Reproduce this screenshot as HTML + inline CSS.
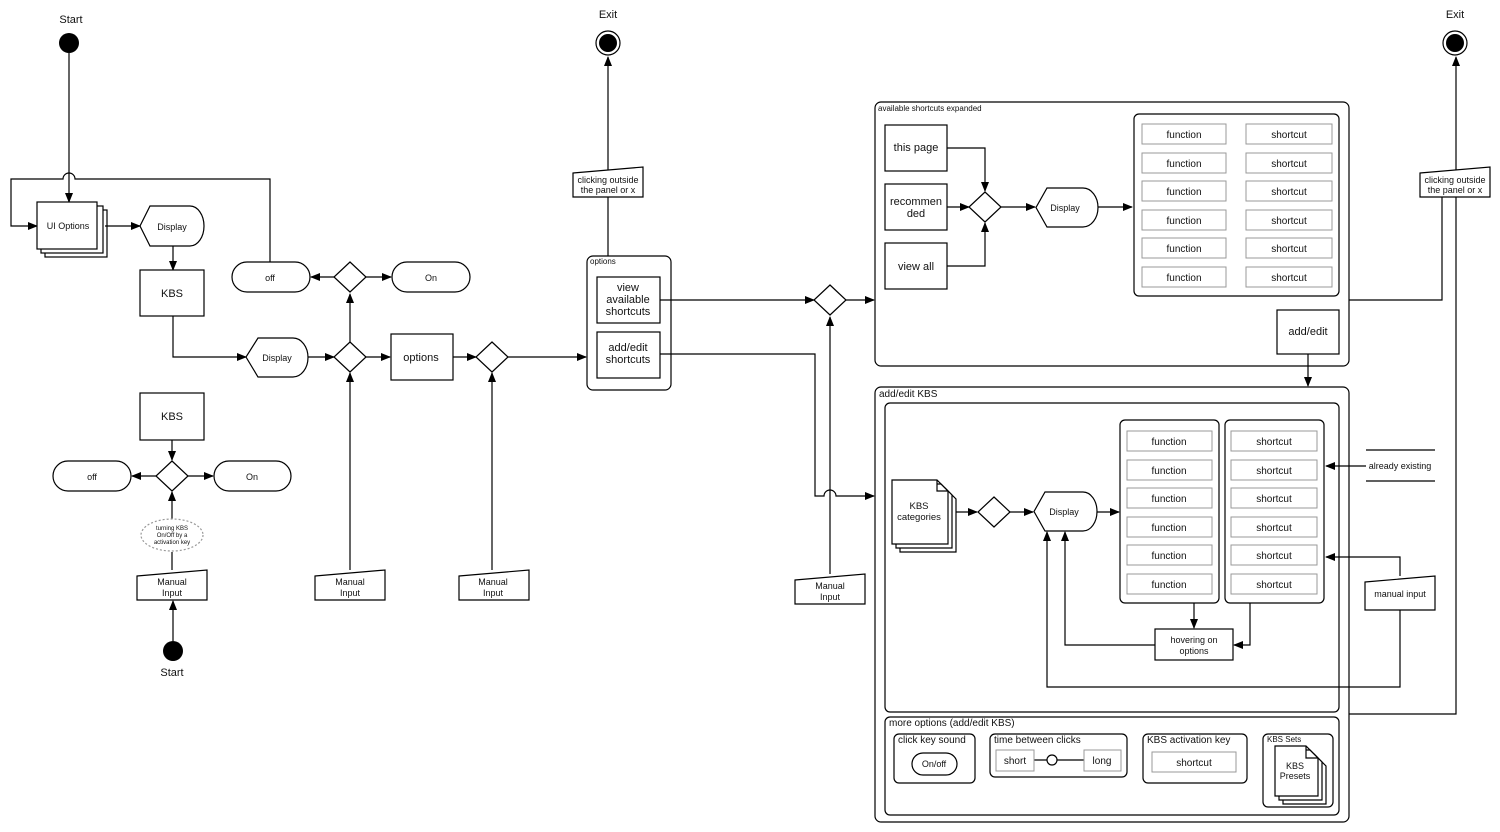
<!DOCTYPE html>
<html><head><meta charset="utf-8"><style>
html,body{margin:0;padding:0;background:#fff;}
svg{display:block;font-family:"Liberation Sans",Arial,sans-serif;}
text{fill:#111;}
</style></head><body>
<svg width="1500" height="832" viewBox="0 0 1500 832" xmlns="http://www.w3.org/2000/svg">
<defs>
<marker id="a" markerWidth="10" markerHeight="8" refX="9" refY="4" orient="auto" markerUnits="userSpaceOnUse"><path d="M0,0 L10,4 L0,8 z" fill="#000"/></marker>
</defs>
<g fill="none" stroke="#000" stroke-width="1.2">
<path d="M69,53 V202" marker-end="url(#a)"/>
<path d="M270,262 V179 H75 a6,6 0 0 0 -12,0 H11 V226 H37" marker-end="url(#a)"/>
<rect x="45" y="210" width="62" height="47" fill="#fff"/>
<rect x="41" y="206" width="62" height="47" fill="#fff"/>
<rect x="37" y="202" width="60" height="47" fill="#fff"/>
<path d="M105,226 H140" marker-end="url(#a)"/>
<path d="M150,206 H190 a14,20 0 0 1 0,40 H150 L140,226 z" fill="#fff"/>
<path d="M173,246 V270" marker-end="url(#a)"/>
<rect x="140" y="270" width="64" height="46" fill="#fff"/>
<path d="M173,316 V357 H246" marker-end="url(#a)"/>
<path d="M258,338 H293 a15,19.5 0 0 1 0,39 H258 L246,357 z" fill="#fff"/>
<path d="M308,357 H334" marker-end="url(#a)"/>
<path d="M350,342 L366,357 L350,372 L334,357 z" fill="#fff"/>
<path d="M350,342 V294" marker-end="url(#a)"/>
<path d="M350,262 L366,277 L350,292 L334,277 z" fill="#fff"/>
<path d="M334,277 H311" marker-end="url(#a)"/>
<path d="M366,277 H391" marker-end="url(#a)"/>
<rect x="232" y="262" width="78" height="30" rx="15" fill="#fff"/>
<rect x="392" y="262" width="78" height="30" rx="15" fill="#fff"/>
<path d="M366,357 H390" marker-end="url(#a)"/>
<rect x="391" y="334" width="62" height="46" fill="#fff"/>
<path d="M453,357 H476" marker-end="url(#a)"/>
<path d="M492,342 L508,357 L492,372 L476,357 z" fill="#fff"/>
<path d="M508,357 H586" marker-end="url(#a)"/>
<path d="M350,570 V373" marker-end="url(#a)"/>
<path d="M492,570 V373" marker-end="url(#a)"/>
<path d="M315,576 L385,570 V600 H315 z" fill="#fff"/>
<path d="M459,576 L529,570 V600 H459 z" fill="#fff"/>
<rect x="140" y="393" width="64" height="47" fill="#fff"/>
<path d="M172,440 V460" marker-end="url(#a)"/>
<path d="M172,461 L188,476 L172,491 L156,476 z" fill="#fff"/>
<path d="M156,476 H132" marker-end="url(#a)"/>
<path d="M188,476 H213" marker-end="url(#a)"/>
<rect x="53" y="461" width="78" height="30" rx="15" fill="#fff"/>
<rect x="214" y="461" width="77" height="30" rx="15" fill="#fff"/>
<path d="M172,570 V552 M172,519 V492" marker-end="url(#a)"/>
<ellipse cx="172" cy="535" rx="31" ry="16" stroke="#999" stroke-dasharray="2,2"/>
<path d="M137,576 L207,570 V600 H137 z" fill="#fff"/>
<path d="M173,641 V601" marker-end="url(#a)"/>
<path d="M608,256 V57" marker-end="url(#a)"/>
<path d="M573,173 L643,167 V197 H573 z" fill="#fff"/>
<circle cx="608" cy="43" r="12" fill="#fff"/>
<rect x="587" y="256" width="84" height="134" rx="6" fill="#fff"/>
<rect x="597" y="277" width="63" height="46" fill="#fff"/>
<rect x="597" y="332" width="63" height="46" fill="#fff"/>
<path d="M660,300 H814" marker-end="url(#a)"/>
<path d="M830,285 L846,300 L830,315 L814,300 z" fill="#fff"/>
<path d="M846,300 H874" marker-end="url(#a)"/>
<path d="M830,574 V317" marker-end="url(#a)"/>
<path d="M795,580 L865,574 V604 H795 z" fill="#fff"/>
<path d="M660,354 H815 V496 H824 a6,6 0 0 1 12,0 H874" marker-end="url(#a)"/>
<rect x="875" y="102" width="474" height="264" rx="6"/>
<rect x="885" y="125" width="62" height="46"/>
<rect x="885" y="184" width="62" height="46"/>
<rect x="885" y="243" width="62" height="46"/>
<path d="M947,148 H985 V191" marker-end="url(#a)"/>
<path d="M947,207 H969" marker-end="url(#a)"/>
<path d="M947,266 H985 V223" marker-end="url(#a)"/>
<path d="M985,192 L1001,207 L985,222 L969,207 z"/>
<path d="M1001,207 H1035" marker-end="url(#a)"/>
<path d="M1047,188 H1083 a15,19.5 0 0 1 0,39 H1047 L1036,207.5 z"/>
<path d="M1098,207 H1132" marker-end="url(#a)"/>
<rect x="1134" y="114" width="205" height="182" rx="5"/>
<rect x="1277" y="310" width="62" height="44"/>
<path d="M1308,354 V386" marker-end="url(#a)"/>
<path d="M1349,300 H1442 V197"/>
<path d="M1349,714 H1456 V57" marker-end="url(#a)"/>
<path d="M1420,173 L1490,167 V197 H1420 z" fill="#fff"/>
<circle cx="1455" cy="43" r="12" fill="#fff"/>
<rect x="875" y="387" width="474" height="435" rx="6"/>
<rect x="885" y="403" width="454" height="309" rx="5"/>
<path d="M900,488 H945 L956,499 V552 H900 z" fill="#fff"/>
<path d="M896,484 H941 L952,495 V548 H896 z" fill="#fff"/>
<path d="M892,480 H937 L948,491 V544 H892 z M937,480 V491 H948" fill="#fff"/>
<path d="M956,512 H977" marker-end="url(#a)"/>
<path d="M994,497 L1010,512 L994,527 L978,512 z"/>
<path d="M1010,512 H1033" marker-end="url(#a)"/>
<path d="M1045,492 H1083 a14,19.5 0 0 1 0,39 H1045 L1034,511.5 z"/>
<path d="M1097,512 H1119" marker-end="url(#a)"/>
<rect x="1120" y="420" width="99" height="183" rx="5"/>
<rect x="1225" y="420" width="99" height="183" rx="5"/>
<path d="M1194,603 V628" marker-end="url(#a)"/>
<path d="M1250,603 V645 H1234" marker-end="url(#a)"/>
<rect x="1155" y="629" width="78" height="31"/>
<path d="M1155,645 H1065 V532" marker-end="url(#a)"/>
<path d="M1400,576 V557 H1326" marker-end="url(#a)"/>
<path d="M1400,610 V687 H1047 V532" marker-end="url(#a)"/>
<path d="M1365,582 L1435,576 V610 H1365 z" fill="#fff"/>
<path d="M1366,450 H1435 M1366,481 H1435"/>
<path d="M1366,466 H1326" marker-end="url(#a)"/>
<rect x="885" y="717" width="454" height="98" rx="5"/>
<rect x="894" y="734" width="81" height="49" rx="5"/>
<rect x="912" y="753" width="45" height="22" rx="11"/>
<rect x="990" y="734" width="137" height="43" rx="5"/>
<path d="M1034,760 H1047 M1057,760 H1084"/>
<circle cx="1052" cy="760" r="5"/>
<rect x="1143" y="734" width="104" height="49" rx="5"/>
<rect x="1263" y="734" width="70" height="73" rx="5"/>
<path d="M1283,754 H1314 L1326,766 V804 H1283 z" fill="#fff"/>
<path d="M1279,750 H1310 L1322,762 V800 H1279 z" fill="#fff"/>
<path d="M1275,746 H1306 L1318,758 V796 H1275 z M1306,746 V758 H1318" fill="#fff"/>
</g>
<g fill="#fff" stroke="#999" stroke-width="1">
<rect x="1142" y="124" width="84" height="20"/><rect x="1246" y="124" width="86" height="20"/>
<rect x="1142" y="153" width="84" height="20"/><rect x="1246" y="153" width="86" height="20"/>
<rect x="1142" y="181" width="84" height="20"/><rect x="1246" y="181" width="86" height="20"/>
<rect x="1142" y="210" width="84" height="20"/><rect x="1246" y="210" width="86" height="20"/>
<rect x="1142" y="238" width="84" height="20"/><rect x="1246" y="238" width="86" height="20"/>
<rect x="1142" y="267" width="84" height="20"/><rect x="1246" y="267" width="86" height="20"/>
<rect x="1127" y="431" width="85" height="20"/><rect x="1231" y="431" width="86" height="20"/>
<rect x="1127" y="460" width="85" height="20"/><rect x="1231" y="460" width="86" height="20"/>
<rect x="1127" y="488" width="85" height="20"/><rect x="1231" y="488" width="86" height="20"/>
<rect x="1127" y="517" width="85" height="20"/><rect x="1231" y="517" width="86" height="20"/>
<rect x="1127" y="545" width="85" height="20"/><rect x="1231" y="545" width="86" height="20"/>
<rect x="1127" y="574" width="85" height="20"/><rect x="1231" y="574" width="86" height="20"/>
<rect x="996" y="750" width="38" height="21"/><rect x="1084" y="750" width="37" height="21"/>
<rect x="1152" y="752" width="84" height="20"/>
</g>
<circle cx="69" cy="43" r="10" fill="#000"/>
<circle cx="173" cy="651" r="10" fill="#000"/>
<circle cx="608" cy="43" r="9" fill="#000"/>
<circle cx="1455" cy="43" r="9" fill="#000"/>
<g font-size="11" text-anchor="middle">
<text x="71" y="23">Start</text>
<text x="172" y="676">Start</text>
<text x="608" y="18">Exit</text>
<text x="1455" y="18">Exit</text>
</g>
<g font-size="9" text-anchor="middle">
<text x="68" y="229">UI Options</text>
<text x="172" y="230">Display</text>
<text x="277" y="361">Display</text>
<text x="270" y="281">off</text>
<text x="431" y="281">On</text>
<text x="92" y="480">off</text>
<text x="252" y="480">On</text>
<text x="350" y="585">Manual</text><text x="350" y="596">Input</text>
<text x="493" y="585">Manual</text><text x="493" y="596">Input</text>
<text x="172" y="585">Manual</text><text x="172" y="596">Input</text>
<text x="830" y="589">Manual</text><text x="830" y="600">Input</text>
<text x="608" y="183">clicking outside</text><text x="608" y="193">the panel or x</text>
<text x="1455" y="183">clicking outside</text><text x="1455" y="193">the panel or x</text>
<text x="1065" y="211">Display</text>
<text x="1064" y="515">Display</text>
<text x="1194" y="643">hovering on</text><text x="1194" y="654">options</text>
<text x="1400" y="597">manual input</text>
<text x="1400" y="469">already existing</text>
<text x="934" y="767">On/off</text>
<text x="1295" y="769">KBS</text><text x="1295" y="779">Presets</text>
</g>
<g font-size="6" text-anchor="middle" fill="#333">
<text x="172" y="530">turning KBS</text><text x="172" y="537">On/Off by a</text><text x="172" y="544">activation key</text>
</g>
<g font-size="11" text-anchor="middle">
<text x="172" y="297">KBS</text>
<text x="172" y="420">KBS</text>
<text x="421" y="361">options</text>
<text x="628" y="291">view</text><text x="628" y="303">available</text><text x="628" y="315">shortcuts</text>
<text x="628" y="351">add/edit</text><text x="628" y="363">shortcuts</text>
<text x="916" y="151">this page</text>
<text x="916" y="205">recommen</text><text x="916" y="217">ded</text>
<text x="916" y="270">view all</text>
<text x="1308" y="335">add/edit</text>
</g>
<g font-size="9.5" text-anchor="middle">
<text x="919" y="509">KBS</text><text x="919" y="520">categories</text>
</g>
<g font-size="10" text-anchor="middle">
<text x="1184" y="138" fill="#444">function</text><text x="1289" y="138" fill="#444">shortcut</text>
<text x="1184" y="167" fill="#444">function</text><text x="1289" y="167" fill="#444">shortcut</text>
<text x="1184" y="195" fill="#444">function</text><text x="1289" y="195" fill="#444">shortcut</text>
<text x="1184" y="224" fill="#444">function</text><text x="1289" y="224" fill="#444">shortcut</text>
<text x="1184" y="252" fill="#444">function</text><text x="1289" y="252" fill="#444">shortcut</text>
<text x="1184" y="281" fill="#444">function</text><text x="1289" y="281" fill="#444">shortcut</text>
<text x="1169" y="445" fill="#444">function</text><text x="1274" y="445" fill="#444">shortcut</text>
<text x="1169" y="474" fill="#444">function</text><text x="1274" y="474" fill="#444">shortcut</text>
<text x="1169" y="502" fill="#444">function</text><text x="1274" y="502" fill="#444">shortcut</text>
<text x="1169" y="531" fill="#444">function</text><text x="1274" y="531" fill="#444">shortcut</text>
<text x="1169" y="559" fill="#444">function</text><text x="1274" y="559" fill="#444">shortcut</text>
<text x="1169" y="588" fill="#444">function</text><text x="1274" y="588" fill="#444">shortcut</text>
<text x="1015" y="764" fill="#444">short</text><text x="1102" y="764" fill="#444">long</text>
<text x="1194" y="766" fill="#444">shortcut</text>
</g>
<g font-size="8">
<text x="878" y="111">available shortcuts expanded</text>
<text x="590" y="264">options</text>
<text x="1267" y="742">KBS Sets</text>
</g>
<g font-size="10">
<text x="879" y="397" fill="#444">add/edit KBS</text>
<text x="889" y="726" fill="#444">more options (add/edit KBS)</text>
<text x="898" y="743" fill="#444">click key sound</text>
<text x="994" y="743" fill="#444">time between clicks</text>
<text x="1147" y="743" fill="#444">KBS activation key</text>
</g>
</svg>
</body></html>
